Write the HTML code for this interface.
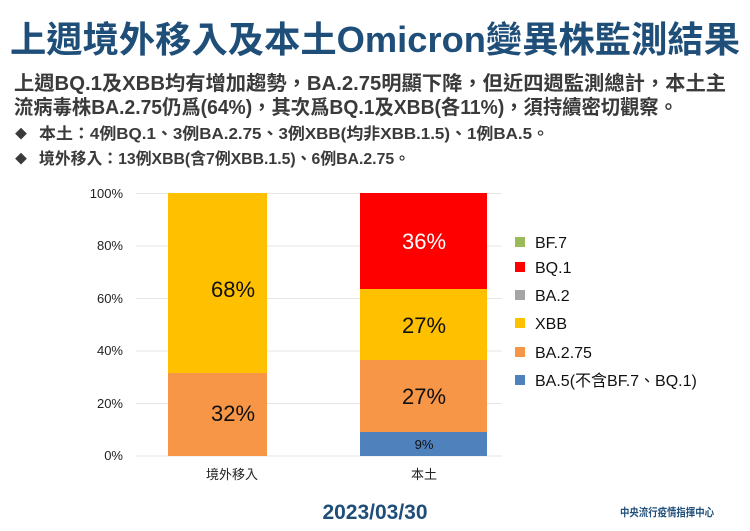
<!DOCTYPE html>
<html><head><meta charset="utf-8"><style>
body{margin:0;background:#fff}
svg{display:block}
</style></head><body>
<svg width="750" height="531" xmlns="http://www.w3.org/2000/svg" font-family="'Liberation Sans','Noto Sans CJK TC',sans-serif">
<text x="10" y="52" font-size="36" font-weight="bold" fill="#1f4e79" textLength="730" lengthAdjust="spacingAndGlyphs">上週境外移入及本土Omicron變異株監測結果</text>
<g fill="#3a3a3a" font-weight="bold">
<text x="14" y="90" font-size="20" textLength="712" lengthAdjust="spacingAndGlyphs">上週BQ.1及XBB均有增加趨勢，BA.2.75明顯下降，但近四週監測總計，本土主</text>
<text x="14" y="114" font-size="20" textLength="664" lengthAdjust="spacingAndGlyphs">流病毒株BA.2.75仍爲(64%)，其次爲BQ.1及XBB(各11%)，須持續密切觀察。</text>
<text x="15" y="138" font-size="12">◆</text>
<text x="15" y="163" font-size="12">◆</text>
<text x="39" y="139" font-size="16" textLength="510" lengthAdjust="spacingAndGlyphs">本土：4例BQ.1、3例BA.2.75、3例XBB(均非XBB.1.5)、1例BA.5。</text>
<text x="39" y="164" font-size="16" textLength="371" lengthAdjust="spacingAndGlyphs">境外移入：13例XBB(含7例XBB.1.5)、6例BA.2.75。</text>
</g>
<g stroke="#e6e6e6" stroke-width="1">
<line x1="136" x2="502" y1="193.5" y2="193.5"/><line x1="136" x2="502" y1="246" y2="246"/>
<line x1="136" x2="502" y1="298.5" y2="298.5"/><line x1="136" x2="502" y1="351" y2="351"/>
<line x1="136" x2="502" y1="403.5" y2="403.5"/><line x1="136" x2="502" y1="456" y2="456"/>
</g>
<g font-size="13" fill="#222" text-anchor="end">
<text x="123" y="198">100%</text><text x="123" y="250">80%</text><text x="123" y="303">60%</text>
<text x="123" y="355">40%</text><text x="123" y="408">20%</text><text x="123" y="460">0%</text>
</g>
<rect x="168" y="193" width="99" height="180" fill="#ffc000"/>
<rect x="168" y="373" width="99" height="83" fill="#f79646"/>
<rect x="360" y="193" width="127" height="96" fill="#ff0000"/>
<rect x="360" y="289" width="127" height="71" fill="#ffc000"/>
<rect x="360" y="360" width="127" height="72" fill="#f79646"/>
<rect x="360" y="432" width="127" height="24" fill="#4f81bd"/>
<g font-size="22" text-anchor="middle" fill="#111">
<text x="233" y="297">68%</text><text x="233" y="421">32%</text>
<text x="424" y="249" fill="#fff">36%</text><text x="424" y="333">27%</text><text x="424" y="404">27%</text>
<text x="424" y="449" font-size="13">9%</text>
</g>
<g font-size="13" text-anchor="middle" fill="#222">
<text x="232" y="479">境外移入</text><text x="424" y="479">本土</text>
</g>
<rect x="515" y="237" width="10" height="10" fill="#9bbb59"/>
<rect x="515" y="262" width="10" height="10" fill="#ff0000"/>
<rect x="515" y="290" width="10" height="10" fill="#a5a5a5"/>
<rect x="515" y="318" width="10" height="10" fill="#ffc000"/>
<rect x="515" y="347" width="10" height="10" fill="#f79646"/>
<rect x="515" y="375" width="10" height="10" fill="#4f81bd"/>
<g font-size="16" fill="#111">
<text x="535" y="248">BF.7</text><text x="535" y="273">BQ.1</text><text x="535" y="301">BA.2</text>
<text x="535" y="329">XBB</text><text x="535" y="358">BA.2.75</text><text x="535" y="386">BA.5(不含BF.7、BQ.1)</text>
</g>
<text x="375" y="519" font-size="21" font-weight="bold" fill="#1f4e79" text-anchor="middle">2023/03/30</text>
<text x="620" y="516" font-size="11" font-weight="bold" fill="#1f4e79" textLength="94" lengthAdjust="spacingAndGlyphs">中央流行疫情指揮中心</text>
</svg>
</body></html>
